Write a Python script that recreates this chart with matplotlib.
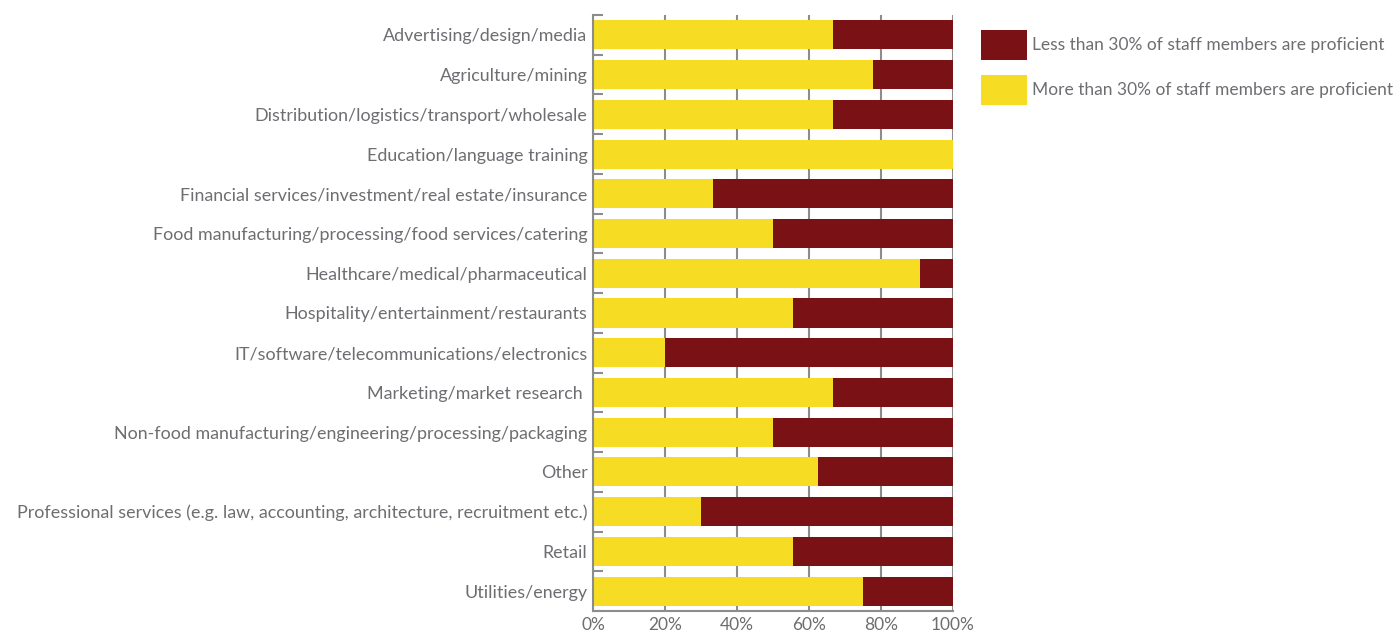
import matplotlib
matplotlib.use("Agg")
import matplotlib.pyplot as plt
from matplotlib.patches import Rectangle
import numpy as np

plt.rcParams['font.family'] = ['Lato', 'DejaVu Sans']

categories = [
    "Advertising/design/media",
    "Agriculture/mining",
    "Distribution/logistics/transport/wholesale",
    "Education/language training",
    "Financial services/investment/real estate/insurance",
    "Food manufacturing/processing/food services/catering",
    "Healthcare/medical/pharmaceutical",
    "Hospitality/entertainment/restaurants",
    "IT/software/telecommunications/electronics",
    "Marketing/market research ",
    "Non-food manufacturing/engineering/processing/packaging",
    "Other",
    "Professional services (e.g. law, accounting, architecture, recruitment etc.)",
    "Retail",
    "Utilities/energy",
]
more_than_30 = [66.7, 77.8, 66.7, 100.0, 33.3, 50.0, 90.9, 55.6, 20.0, 66.7, 50.0, 62.5, 30.0, 55.6, 75.0]
less_than_30 = [100 - v for v in more_than_30]
series_labels = ["Less than 30% of staff members are proficient",
                 "More than 30% of staff members are proficient"]
xticks = [0, 20, 40, 60, 80, 100]
xticklabels = ["0%", "20%", "40%", "60%", "80%", "100%"]

YELLOW = "#F6DD23"
MAROON = "#7A1114"
GRID = "#8C8C8C"
TEXT = "#6D6E71"

fig = plt.figure(figsize=(14, 6.35), dpi=100)
ax = fig.add_axes([593/1400, 1 - 611/635, 360/1400, 596/635])

y = np.arange(len(categories))
ax.barh(y, more_than_30, height=0.73, color=YELLOW, zorder=2)
ax.barh(y, less_than_30, left=more_than_30, height=0.73, color=MAROON, zorder=2)

ax.set_xlim(0, 100)
ax.set_ylim(len(categories) - 0.5, -0.5)
ax.set_xticks(xticks)
ax.set_xticklabels(xticklabels, color=TEXT, fontsize=12.5)
ax.set_yticks(y)
ax.set_yticklabels(categories, color=TEXT, fontsize=12.85)
ax.tick_params(axis='y', which='major', length=0, pad=4)
ax.tick_params(axis='x', which='major', length=0, pad=4)
ax.set_yticks(np.arange(-0.5, len(categories), 1), minor=True)
ax.tick_params(axis='y', which='minor', direction='in', length=7, width=1.5, color=GRID)
ax.xaxis.grid(True, color=GRID, linewidth=1.5, zorder=0)
ax.set_axisbelow(True)
for s in ['top', 'right']:
    ax.spines[s].set_visible(False)
for s in ['left', 'bottom']:
    ax.spines[s].set_color(GRID)
    ax.spines[s].set_linewidth(1.5)

# legend
for i, (lab, col) in enumerate(zip(series_labels, [MAROON, YELLOW])):
    y0 = 1 - (60 + i * 45) / 635
    fig.patches.append(Rectangle((981/1400, y0), 46/1400, 30/635, transform=fig.transFigure,
                                 facecolor=col, edgecolor='none'))
    fig.text(1032/1400, y0 + 15/635, lab, color=TEXT, fontsize=12.5, va='center', ha='left')

fig.savefig("out.png", dpi=100)
